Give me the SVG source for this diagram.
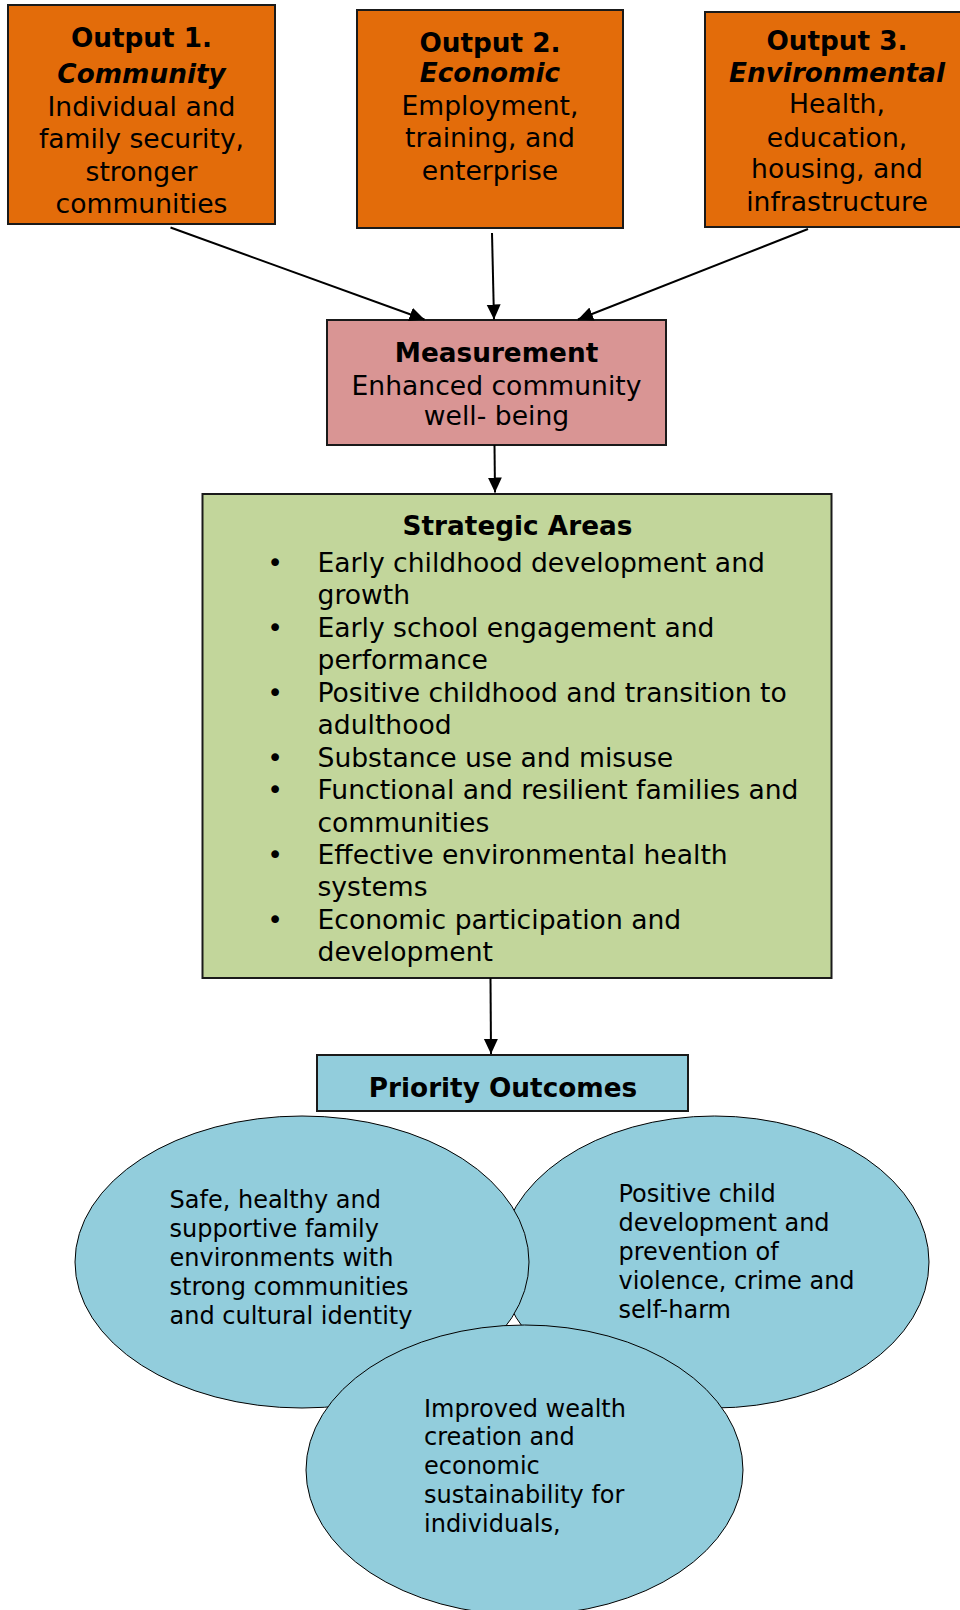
<svg xmlns="http://www.w3.org/2000/svg" width="960" height="1610" viewBox="0 0 960 1610">
<style>
  text { font-family: "DejaVu Sans", Verdana, sans-serif; fill: #000; }
  .t { font-size: 26.6px; }
  .c { text-anchor: middle; }
  .b { font-weight: bold; font-size: 26.3px; }
  .bi { font-weight: bold; font-style: italic; font-size: 26.3px; }
  .e { font-size: 24px; }
  .box { stroke: #1a1a1a; stroke-width: 2; }
  .orange { fill: #E36C0A; }
  .pink { fill: #D99594; }
  .green { fill: #C2D69B; }
  .blue { fill: #92CDDC; }
  .ell { fill: #92CDDC; stroke: #000; stroke-width: 1; }
  .conn line { stroke: #000; stroke-width: 2; }
</style>
<defs>
  <marker id="arr" markerUnits="userSpaceOnUse" markerWidth="16" markerHeight="16" refX="15" refY="7" orient="auto">
    <path d="M0,0 L15,7 L0,14 z" fill="#000"/>
  </marker>
</defs>

<g id="output1">
  <rect class="box orange" x="8" y="5" width="267" height="219"/>
  <text class="t c b" x="141.5" y="47">Output 1.</text>
  <text class="t c bi" x="141.5" y="83">Community</text>
  <text class="t c" x="141.5" y="115.5">Individual and</text>
  <text class="t c" x="141.5" y="148">family security,</text>
  <text class="t c" x="141.5" y="180.5">stronger</text>
  <text class="t c" x="141.5" y="213">communities</text>
</g>

<g id="output2">
  <rect class="box orange" x="357" y="10" width="266" height="218"/>
  <text class="t c b" x="490" y="52">Output 2.</text>
  <text class="t c bi" x="490" y="82">Economic</text>
  <text class="t c" x="490" y="115">Employment,</text>
  <text class="t c" x="490" y="147">training, and</text>
  <text class="t c" x="490" y="180">enterprise</text>
</g>

<g id="output3">
  <rect class="box orange" x="705" y="12" width="264" height="215"/>
  <text class="t c b" x="837" y="50">Output 3.</text>
  <text class="t c bi" x="837" y="82">Environmental</text>
  <text class="t c" x="837" y="113">Health,</text>
  <text class="t c" x="837" y="147">education,</text>
  <text class="t c" x="837" y="178">housing, and</text>
  <text class="t c" x="837" y="210.5">infrastructure</text>
</g>

<g id="measurement">
  <rect class="box pink" x="327" y="320" width="339" height="125"/>
  <text class="t c b" x="496.5" y="362">Measurement</text>
  <text class="t c" x="496.5" y="395">Enhanced community</text>
  <text class="t c" x="496.5" y="425">well- being</text>
</g>

<g id="strategic">
  <rect class="box green" x="202.5" y="494" width="629" height="484"/>
  <text class="t c b" x="517.5" y="535">Strategic Areas</text>
  <g class="t">
    <text x="275" y="571.5" class="c">•</text><text x="317.5" y="571.5">Early childhood development and</text>
    <text x="317.5" y="604">growth</text>
    <text x="275" y="636.5" class="c">•</text><text x="317.5" y="636.5">Early school engagement and</text>
    <text x="317.5" y="669">performance</text>
    <text x="275" y="701.5" class="c">•</text><text x="317.5" y="701.5">Positive childhood and transition to</text>
    <text x="317.5" y="734">adulthood</text>
    <text x="275" y="766.5" class="c">•</text><text x="317.5" y="766.5">Substance use and misuse</text>
    <text x="275" y="799" class="c">•</text><text x="317.5" y="799">Functional and resilient families and</text>
    <text x="317.5" y="831.5">communities</text>
    <text x="275" y="864" class="c">•</text><text x="317.5" y="864">Effective environmental health</text>
    <text x="317.5" y="896">systems</text>
    <text x="275" y="928.5" class="c">•</text><text x="317.5" y="928.5">Economic participation and</text>
    <text x="317.5" y="961">development</text>
  </g>
</g>

<g id="priority">
  <rect class="box blue" x="317" y="1055" width="371" height="56"/>
  <text class="t c b" x="503" y="1097">Priority Outcomes</text>
</g>

<g id="outcome-child">
  <ellipse class="ell" cx="714.5" cy="1262" rx="214.5" ry="146"/>
  <text class="e" x="618.5" y="1201.5">Positive child</text>
  <text class="e" x="618.5" y="1230.5">development and</text>
  <text class="e" x="618.5" y="1259.5">prevention of</text>
  <text class="e" x="618.5" y="1288.5">violence, crime and</text>
  <text class="e" x="618.5" y="1317.5">self-harm</text>
</g>

<g id="outcome-family">
  <ellipse class="ell" cx="302" cy="1262" rx="227" ry="146"/>
  <text class="e" x="169.5" y="1207.5">Safe, healthy and</text>
  <text class="e" x="169.5" y="1236.5">supportive family</text>
  <text class="e" x="169.5" y="1265.5">environments with</text>
  <text class="e" x="169.5" y="1294.5">strong communities</text>
  <text class="e" x="169.5" y="1323.5">and cultural identity</text>
</g>

<g id="outcome-wealth">
  <ellipse class="ell" cx="524.5" cy="1470" rx="218.5" ry="145"/>
  <text class="e" x="424" y="1416.5">Improved wealth</text>
  <text class="e" x="424" y="1445">creation and</text>
  <text class="e" x="424" y="1474">economic</text>
  <text class="e" x="424" y="1502.5">sustainability for</text>
  <text class="e" x="424" y="1531.5">individuals,</text>
</g>

<g id="connectors" class="conn">
  <line x1="170.5" y1="227.5" x2="424.5" y2="319.5" marker-end="url(#arr)"/>
  <line x1="492" y1="233" x2="494" y2="319.5" marker-end="url(#arr)"/>
  <line x1="808" y1="229" x2="578" y2="319.5" marker-end="url(#arr)"/>
  <line x1="494.5" y1="445" x2="495" y2="492.5" marker-end="url(#arr)"/>
  <line x1="490.5" y1="978" x2="491" y2="1054" marker-end="url(#arr)"/>
</g>
</svg>
